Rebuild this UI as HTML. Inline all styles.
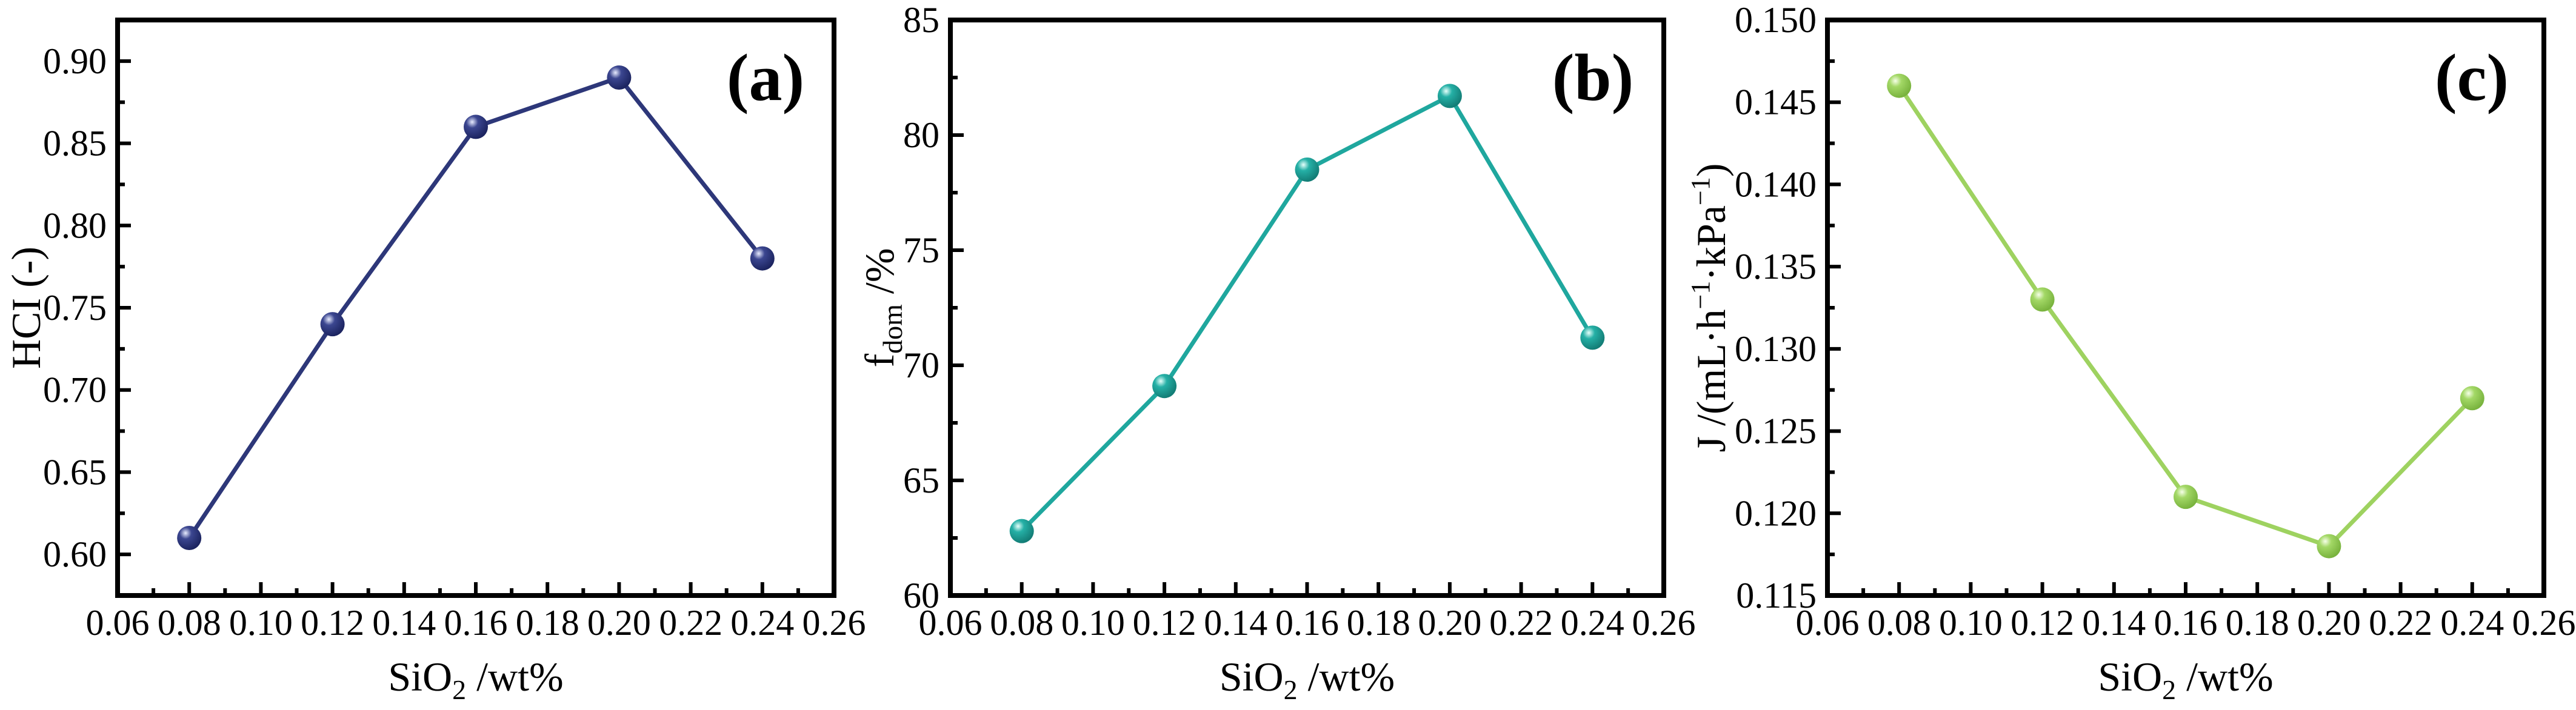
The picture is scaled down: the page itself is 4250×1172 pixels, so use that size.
<!DOCTYPE html>
<html><head><meta charset="utf-8"><style>
html,body{margin:0;padding:0;background:#fff;}
svg{display:block;font-family:"Liberation Serif",serif;}
</style></head><body>
<svg id="fig" width="4250" height="1172" viewBox="0 0 4250 1172" xmlns="http://www.w3.org/2000/svg">
<defs>
<radialGradient id="gA" cx="0.35" cy="0.3" r="0.7"><stop offset="0" stop-color="#e8ecff"/><stop offset="0.35" stop-color="#3b4690"/><stop offset="1" stop-color="#1c2460"/></radialGradient>
<radialGradient id="gB" cx="0.35" cy="0.3" r="0.7"><stop offset="0" stop-color="#e6fffb"/><stop offset="0.35" stop-color="#25b0a6"/><stop offset="1" stop-color="#137d76"/></radialGradient>
<radialGradient id="gC" cx="0.35" cy="0.3" r="0.7"><stop offset="0" stop-color="#f6ffe8"/><stop offset="0.35" stop-color="#a3d866"/><stop offset="1" stop-color="#79b33e"/></radialGradient>
</defs>
</svg>
<script>
const xCategories = [0.08, 0.12, 0.16, 0.20, 0.24];
const xTickLabels = ["0.06","0.08","0.10","0.12","0.14","0.16","0.18","0.20","0.22","0.24","0.26"];
const hciValues = [0.61, 0.74, 0.86, 0.89, 0.78];
const fdomValues = [62.8, 69.1, 78.5, 81.7, 71.2];
const fluxValues = [0.146, 0.133, 0.121, 0.118, 0.127];
const hciTickLabels = ["0.60","0.65","0.70","0.75","0.80","0.85","0.90"];
const fdomTickLabels = ["60","65","70","75","80","85"];
const fluxTickLabels = ["0.115","0.120","0.125","0.130","0.135","0.140","0.145","0.150"];

const NS = "http://www.w3.org/2000/svg";
const svg = document.getElementById('fig');
function mk(tag, attrs, parent){const e=document.createElementNS(NS,tag);for(const k in attrs)e.setAttribute(k,attrs[k]);(parent||svg).appendChild(e);return e;}

const panels = [
 {id:'a', left:194, right:1376, ymin:0.575, ymax:0.925, vals:hciValues, ticks:hciTickLabels, minorStep:0.025, color:'#2d3779', grad:'url(#gA)', letter:'(a)', lx:1263, ylabX:42},
 {id:'b', left:1568, right:2745, ymin:60, ymax:85, vals:fdomValues, ticks:fdomTickLabels, minorStep:2.5, color:'#1fa79e', grad:'url(#gB)', letter:'(b)', lx:2628, ylabX:1450},
 {id:'c', left:3015, right:4197, ymin:0.115, ymax:0.150, vals:fluxValues, ticks:fluxTickLabels, minorStep:0.0025, color:'#9ed260', grad:'url(#gC)', letter:'(c)', lx:4078, ylabX:2822}
];
const TOP=33, BOT=983, XMIN=0.06, XMAX=0.26;

panels.forEach(p=>{
  const g = mk('g',{});
  
  
  const sx = v => p.left + (v-XMIN)/(XMAX-XMIN)*(p.right-p.left);
  const sy = v => BOT - (v-p.ymin)/(p.ymax-p.ymin)*(BOT-TOP);
  for(let i=0;i<=20;i++){
    const v = XMIN + i*0.01; const x = sx(v);
    const major = i%2===0;
    const t = mk('line',{x1:x,x2:x,y1:BOT,y2:BOT-(major?22:12),stroke:'#000','stroke-width':6},g);
    
    
  }
  xTickLabels.forEach(lbl=>{
    const t = mk('text',{x:sx(parseFloat(lbl)),y:1048,'font-size':60,'text-anchor':'middle'},g);
    t.textContent=lbl;
    
    
  });
  const y0 = parseFloat(p.ticks[0]);
  for(let v=p.ymin; v<=p.ymax+1e-9; v+=p.minorStep){
    const k = Math.round((v-y0)/p.minorStep);
    const major = Math.abs(k%2)===0;
    const y = sy(v);
    const t = mk('line',{x1:p.left,x2:p.left+(major?22:12),y1:y,y2:y,stroke:'#000','stroke-width':6},g);
    
    
  }
  p.ticks.forEach(lbl=>{
    const t = mk('text',{x:p.left-18,y:sy(parseFloat(lbl))+20,'font-size':60,'text-anchor':'end'},g);
    t.textContent=lbl;
    
    
  });
  const fr = mk('rect',{x:p.left,y:TOP,width:p.right-p.left,height:BOT-TOP,fill:'none',stroke:'#000','stroke-width':8},g);
  
  
  const pts = xCategories.map((x,i)=>sx(x)+','+sy(p.vals[i])).join(' ');
  const pl = mk('polyline',{points:pts,fill:'none',stroke:p.color,'stroke-width':7},g);
  
  
  xCategories.forEach((x,i)=>{
    const c = mk('circle',{cx:sx(x),cy:sy(p.vals[i]),r:20,fill:p.grad},g);
    
    
  });
  const L = mk('text',{x:p.lx,y:165,'font-size':110,'font-weight':'bold','text-anchor':'middle'},g);
  L.textContent=p.letter;
  
  
  const xt = mk('text',{x:(p.left+p.right)/2,y:1140,'font-size':68,'text-anchor':'middle'},g);
  xt.innerHTML='SiO<tspan font-size="46" dy="14">2</tspan><tspan dy="-14"> /wt%</tspan>';
  
  
  const yt = mk('text',{x:0,y:0,'font-size':68,'text-anchor':'middle',transform:'translate('+(p.ylabX+24)+','+((TOP+BOT)/2)+') rotate(-90)'},g);
  if(p.id==='a') yt.textContent='HCI (-)';
  else if(p.id==='b') yt.innerHTML='f<tspan font-size="46" dy="14">dom</tspan><tspan dy="-14"> /%</tspan>';
  else yt.innerHTML='J /(mL·h<tspan font-size="44" dy="-26">−1</tspan><tspan dy="26">·kPa</tspan><tspan font-size="44" dy="-26">−1</tspan><tspan dy="26">)</tspan>';
  
  
});
</script>
</body></html>
